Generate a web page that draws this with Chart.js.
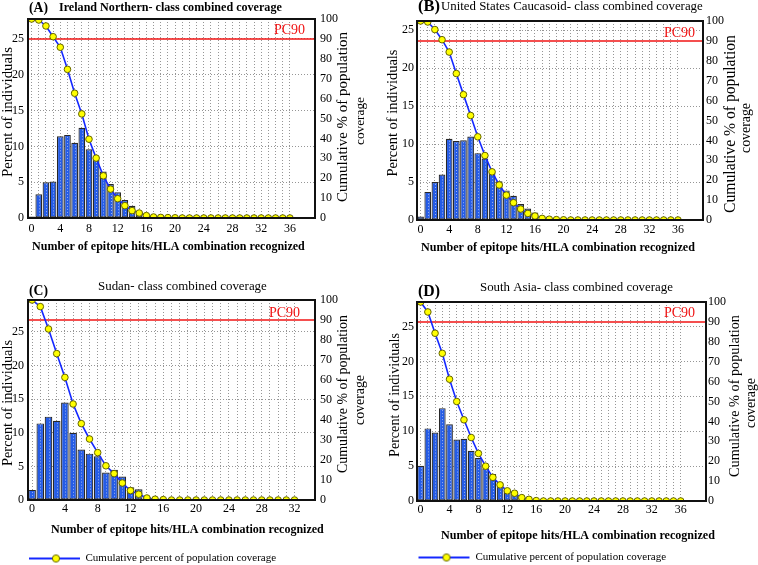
<!DOCTYPE html>
<html>
<head>
<meta charset="utf-8">
<script src="https://cdn.jsdelivr.net/npm/chart.js@4/dist/chart.umd.min.js"></script>
<style>
  html, body { margin:0; padding:0; background:#fff; width:758px; height:565px; overflow:hidden; }
  canvas { position:absolute; }
</style>
</head>
<body>
<canvas id="cA"></canvas>
<canvas id="cB"></canvas>
<canvas id="cC"></canvas>
<canvas id="cD"></canvas>
<script>
// ---------------- DATA ----------------
const hits40 = [0,1,2,3,4,5,6,7,8,9,10,11,12,13,14,15,16,17,18,19,20,21,22,23,24,25,26,27,28,29,30,31,32,33,34,35,36,37,38,39];
const hits35 = [0,1,2,3,4,5,6,7,8,9,10,11,12,13,14,15,16,17,18,19,20,21,22,23,24,25,26,27,28,29,30,31,32,33,34];

// Percent of individuals (bars)
const pctA = [0.2,3.3,5.0,5.1,11.4,11.6,10.5,12.6,9.6,8.1,6.5,4.75,3.6,2.5,1.7,0.9,0.4,0.15,0.1];
const pctB = [0.45,3.7,5.0,6.0,10.7,10.4,10.5,11.0,8.8,8.1,6.2,5.1,3.9,3.2,2.1,1.5,1.0,0.5,0.2];
const pctC = [1.5,11.4,12.4,11.8,14.5,10.0,7.5,6.9,6.5,4.1,4.5,3.5,1.9,1.6,0.5,0.15,0.1];
const pctD = [5.05,10.4,9.8,13.3,11.0,8.8,8.9,7.2,6.15,4.7,3.85,2.6,1.7,1.35,0.6,0.3,0.15];

// Cumulative % of population coverage (line)
const cumA = [100,99.5,96.5,91.1,85.8,74.7,62.7,52.3,39.6,30.1,21.2,14.5,9.7,6.2,3.7,2.5,1.2,0.5,0.3,0.2,0.1,0,0,0,0,0,0,0,0,0,0,0,0,0,0,0,0];
const cumB = [100,99.5,95.7,90.6,84.4,73.6,63.0,52.5,41.8,32.4,24.2,17.6,12.5,8.7,5.5,3.3,2.0,0.8,0.4,0.2,0.1,0,0,0,0,0,0,0,0,0,0,0,0,0,0,0,0];
const cumC = [100,96.7,85.5,73.2,61.3,48.0,38.2,30.5,23.7,17.1,13.2,8.5,4.7,2.9,1.0,0.4,0.2,0,0,0,0,0,0,0,0,0,0,0,0,0,0,0,0];
const cumD = [100,95.0,84.3,74.2,61.2,50.0,40.8,31.9,23.9,17.5,11.9,8.1,5.1,3.9,1.7,0.85,0.2,0,0,0,0,0,0,0,0,0,0,0,0,0,0,0,0,0,0,0,0];

const PC90 = 90;
const leftTicks = [0,5,10,15,20,25];
const rightTicks = [0,10,20,30,40,50,60,70,80,90,100];

const panelLabels = ['(A)','(B)','(C)','(D)'];
const panelTitles = ['Ireland Northern- class combined coverage','United States Caucasoid- class combined coverage','Sudan- class combined coverage','South Asia- class combined coverage'];
const xTitleText = 'Number of epitope hits/HLA combination recognized';
const yTitleText = 'Percent of individuals';
const rTitleText = ['Cumulative % of population','coverage'];
const legendText = 'Cumulative percent of population coverage';
const pcText = 'PC90';

// ---------------- STYLE ----------------
const FAMILY = "'Liberation Serif', 'Times New Roman', serif";
const BAR_FILL = 'rgb(37,92,230)';
const BAR_EDGE = 'rgb(40,40,40)';
const LINE_COLOR = 'rgb(20,40,255)';
const POINT_FILL = 'rgb(255,255,0)';
const POINT_EDGE = 'rgb(100,100,0)';
const GRID = 'rgb(150,150,150)';

function makeLegendIcon(w, x0, x1, mx) {
  const c = document.createElement('canvas');
  c.width = w; c.height = 10;
  const g = c.getContext('2d');
  g.strokeStyle = LINE_COLOR; g.lineWidth = 2;
  g.beginPath(); g.moveTo(x0, 5); g.lineTo(x1, 5); g.stroke();
  g.beginPath(); g.arc(mx, 5, 3.6, 0, Math.PI * 2);
  g.fillStyle = POINT_FILL; g.fill();
  g.strokeStyle = POINT_EDGE; g.lineWidth = 1; g.stroke();
  return c;
}

function fitText(ctx, text, x0, x1, yc, weight) {
  ctx.save();
  ctx.font = weight + ' 20px ' + FAMILY;
  const w = ctx.measureText(text).width;
  const size = 20 * (x1 - x0) / w;
  ctx.font = weight + ' ' + size.toFixed(2) + 'px ' + FAMILY;
  ctx.fillStyle = '#000'; ctx.textBaseline = 'middle'; ctx.textAlign = 'left';
  ctx.fillText(text, x0, yc);
  ctx.restore();
}
function fitTextV(ctx, text, xc, yc, len, weight) {
  ctx.save();
  ctx.translate(xc, yc); ctx.rotate(-Math.PI / 2);
  ctx.font = weight + ' 20px ' + FAMILY;
  const w = ctx.measureText(text).width;
  const size = 20 * len / w;
  ctx.font = weight + ' ' + size.toFixed(2) + 'px ' + FAMILY;
  ctx.fillStyle = '#000'; ctx.textBaseline = 'middle'; ctx.textAlign = 'center';
  ctx.fillText(text, 0, 0);
  ctx.restore();
}

// ---------------- LAYOUT ----------------
const panels = [
  { id:'cA', left:0, top:0, w:379, h:265, area:{l:28, r:315, t:19, b:218},
    cats:hits40, pct:pctA, cum:cumA, leftMax:27.78, lastTick:36, legend:null, idx:0, titleBold:true,
    lab:{x0:29, x1:48, y:8}, ttl:{x0:59, x1:282, y:8},
    xt:{x0:32, x1:305, y:247}, yt:{x:8, y:112, len:130},
    rt:[{x:343, y:117, len:170},{x:361, y:121, len:48}],
    pc:{right:305, y:30}, pad:{x:4, y:4, r:5} },
  { id:'cB', left:379, top:0, w:379, h:265, area:{l:38, r:324, t:21, b:220},
    cats:hits40, pct:pctB, cum:cumB, leftMax:26.2, lastTick:36, legend:null, idx:1, titleBold:false,
    lab:{x0:39, x1:61, y:7}, ttl:{x0:62, x1:324, y:7},
    xt:{x0:42, x1:316, y:248}, yt:{x:14, y:113, len:127},
    rt:[{x:352, y:124, len:178},{x:367, y:128, len:50}],
    pc:{right:316, y:33}, pad:{x:3, y:3, r:3} },
  { id:'cC', left:0, top:265, w:379, h:309, area:{l:28, r:315, t:35, b:235},
    cats:hits35, pct:pctC, cum:cumC, leftMax:29.76, lastTick:32, idx:2, titleBold:false,
    legend:{boxW:70, icon:[70, 19, 70, 46]},
    lab:{x0:29, x1:48, y:26.7}, ttl:{x0:98, x1:267, y:21.7},
    xt:{x0:51, x1:324, y:265}, yt:{x:8, y:138, len:126},
    rt:[{x:343, y:129, len:158},{x:360, y:135, len:50}],
    pc:{right:300, y:48}, pad:{x:2, y:4, r:5} },
  { id:'cD', left:379, top:265, w:379, h:308, area:{l:38, r:327, t:37, b:236},
    cats:hits40, pct:pctD, cum:cumD, leftMax:28.5, lastTick:36, idx:3, titleBold:false,
    legend:{boxW:81, icon:[82, 30, 81, 58]},
    lab:{x0:39, x1:61, y:26.7}, ttl:{x0:101, x1:294, y:23},
    xt:{x0:62, x1:336, y:271}, yt:{x:16, y:130, len:124},
    rt:[{x:356, y:131, len:162},{x:372, y:138, len:50}],
    pc:{right:316, y:48}, pad:{x:2, y:3, r:2} }
];

function makeDeco(p) {
  return {
    id: 'deco' + p.idx,
    beforeDatasetsDraw(chart) {
      const {ctx, chartArea: a, scales} = chart;
      const yp = scales.y1.getPixelForValue(PC90);
      ctx.save();
      ctx.strokeStyle = 'rgb(240,20,20)'; ctx.lineWidth = 1.5;
      ctx.beginPath(); ctx.moveTo(a.left, yp); ctx.lineTo(a.right, yp); ctx.stroke();
      ctx.font = '14px ' + FAMILY; ctx.fillStyle = 'rgb(240,20,20)';
      ctx.textAlign = 'right'; ctx.textBaseline = 'middle';
      ctx.fillText(pcText, p.pc.right, p.pc.y);
      ctx.restore();
    },
    afterDatasetDraw(chart, args) {
      if (args.meta.type !== 'bar') return;
      const ctx = chart.ctx;
      ctx.save();
      ctx.strokeStyle = 'rgba(200,210,240,0.75)';
      ctx.lineWidth = 1; ctx.setLineDash([1, 2]);
      args.meta.data.forEach(el => {
        const {x, y, base} = el.getProps(['x', 'y', 'base'], true);
        if (!isFinite(y) || base - y < 3) return;
        const xx = Math.round(x) + 0.5;
        ctx.beginPath(); ctx.moveTo(xx, y + 2); ctx.lineTo(xx, base - 1); ctx.stroke();
      });
      ctx.restore();
    },
    afterDatasetsDraw(chart) {
      const {ctx, chartArea: a} = chart;
      ctx.save();
      ctx.strokeStyle = '#111'; ctx.lineWidth = 2;
      ctx.strokeRect(a.left, a.top, a.right - a.left, a.bottom - a.top);
      ctx.restore();
    },
    afterDraw(chart) {
      const ctx = chart.ctx;
      fitText(ctx, panelLabels[p.idx], p.lab.x0, p.lab.x1, p.lab.y, 'bold');
      fitText(ctx, panelTitles[p.idx], p.ttl.x0, p.ttl.x1, p.ttl.y, p.titleBold ? 'bold' : 'normal');
      fitText(ctx, xTitleText, p.xt.x0, p.xt.x1, p.xt.y, 'bold');
      fitTextV(ctx, yTitleText, p.yt.x, p.yt.y, p.yt.len, 'normal');
      fitTextV(ctx, rTitleText[0], p.rt[0].x, p.rt[0].y, p.rt[0].len, 'normal');
      fitTextV(ctx, rTitleText[1], p.rt[1].x, p.rt[1].y, p.rt[1].len, 'normal');
    }
  };
}

function buildPanel(p) {
  const cv = document.getElementById(p.id);
  cv.width = p.w; cv.height = p.h;
  cv.style.left = p.left + 'px'; cv.style.top = p.top + 'px';
  cv.style.width = p.w + 'px'; cv.style.height = p.h + 'px';
  const legendH = p.legend ? 31 : 0;
  const xH = p.h - legendH - p.area.b;
  const tickFont = { family: FAMILY, size: 12 };
  const legendOpts = p.legend ? {
    display: true, position: 'bottom', align: 'start',
    labels: {
      usePointStyle: true,
      pointStyle: makeLegendIcon(p.legend.icon[0], p.legend.icon[1], p.legend.icon[2], p.legend.icon[3]),
      pointStyleWidth: p.legend.boxW,
      font: { family: FAMILY, size: 11 }, color: '#000', padding: 10,
      filter: item => item.datasetIndex === 0
    }
  } : { display: false };

  return new Chart(cv, {
    type: 'bar',
    data: {
      labels: p.cats,
      datasets: [
        { type: 'line', label: legendText, data: p.cum, yAxisID: 'y1',
          borderColor: LINE_COLOR, borderWidth: 1.6, tension: 0, fill: false,
          pointRadius: 3.3, pointBackgroundColor: POINT_FILL, pointBorderColor: POINT_EDGE, pointBorderWidth: 1 },
        { type: 'bar', label: yTitleText, data: p.pct, yAxisID: 'y',
          backgroundColor: BAR_FILL, borderColor: BAR_EDGE, borderWidth: 1.2, borderSkipped: false,
          categoryPercentage: 1.0, barPercentage: 0.93 }
      ]
    },
    options: {
      responsive: false, animation: false, devicePixelRatio: 1,
      layout: { padding: { top: p.area.t, left: 0, right: 0, bottom: 0 } },
      plugins: { legend: legendOpts, tooltip: { enabled: false }, title: { display: false } },
      scales: {
        x: {
          type: 'category', offset: true,
          grid: { offset: false, drawTicks: false, lineWidth: 1,
                  color: c => (c.index <= p.lastTick ? GRID : 'rgba(0,0,0,0)') },
          border: { display: false, dash: [1, 2] },
          ticks: { autoSkip: false, maxRotation: 0, minRotation: 0, padding: p.pad.x, color: '#000', font: tickFont,
                   callback: (v, i) => (i % 4 === 0 && i <= p.lastTick ? String(p.cats[i]) : '') },
          afterFit: s => { s.height = xH; }
        },
        y: {
          position: 'left', min: 0, max: p.leftMax,
          grid: { drawTicks: false, color: GRID, lineWidth: 1 },
          border: { display: false, dash: [1, 2] },
          ticks: { padding: p.pad.y, color: '#000', font: tickFont, autoSkip: false },
          afterBuildTicks: s => { s.ticks = leftTicks.map(v => ({ value: v })); },
          afterFit: s => { s.width = p.area.l; }
        },
        y1: {
          position: 'right', min: 0, max: 100,
          grid: { display: false, drawTicks: false },
          border: { display: false },
          ticks: { padding: p.pad.r, color: '#000', font: tickFont, autoSkip: false },
          afterBuildTicks: s => { s.ticks = rightTicks.map(v => ({ value: v })); },
          afterFit: s => { s.width = p.w - p.area.r; }
        }
      }
    },
    plugins: [makeDeco(p)]
  });
}

panels.forEach(buildPanel);
</script>
</body>
</html>
